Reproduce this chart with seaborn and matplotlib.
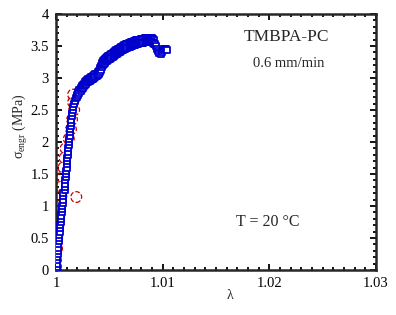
import matplotlib
matplotlib.use("Agg")
import matplotlib.pyplot as plt
import seaborn as sns
import pandas as pd
from matplotlib.ticker import MultipleLocator

# tramo inicial de la curva (cuadrados azules)
lam_rise = [1.0001, 1.0001, 1.0001, 1.0001, 1.0001, 1.0002, 1.0002, 1.0002, 1.0002, 1.0003,
            1.0003, 1.0003, 1.0004, 1.0004, 1.0004, 1.0005, 1.0005, 1.0005, 1.0006, 1.0006,
            1.0006, 1.0007, 1.0007, 1.0007, 1.0007, 1.0008, 1.0008, 1.0008, 1.0008, 1.0009,
            1.0009, 1.0009, 1.0010, 1.0010, 1.0010, 1.0010, 1.0011, 1.0011, 1.0011, 1.0012,
            1.0012, 1.0012, 1.0013, 1.0013, 1.0013, 1.0014, 1.0014, 1.0014, 1.0015, 1.0015,
            1.0016, 1.0016, 1.0017, 1.0018, 1.0019]
sig_rise = [0.00, 0.05, 0.10, 0.15, 0.20, 0.25, 0.30, 0.35, 0.40, 0.45,
            0.50, 0.55, 0.60, 0.65, 0.70, 0.75, 0.80, 0.85, 0.90, 0.95,
            1.00, 1.05, 1.10, 1.15, 1.20, 1.25, 1.30, 1.35, 1.40, 1.45,
            1.50, 1.55, 1.60, 1.65, 1.70, 1.75, 1.80, 1.85, 1.90, 1.95,
            2.00, 2.05, 2.10, 2.15, 2.20, 2.25, 2.30, 2.35, 2.40, 2.45,
            2.50, 2.55, 2.60, 2.64, 2.68]

# zona de fluencia: dos lecturas por cada lambda (banda con ruido)
lam_flow = [1.0020, 1.0021, 1.0022, 1.0023, 1.0024, 1.0025, 1.0026, 1.0027, 1.0028, 1.0029,
            1.0030, 1.0031, 1.0032, 1.0033, 1.0034, 1.0035, 1.0036, 1.0037, 1.0038, 1.0039,
            1.0040, 1.0041, 1.0042, 1.0043, 1.0044, 1.0045, 1.0046, 1.0047, 1.0048, 1.0049,
            1.0050, 1.0051, 1.0052, 1.0053, 1.0054, 1.0055, 1.0056, 1.0057, 1.0058, 1.0059,
            1.0060, 1.0061, 1.0062, 1.0063, 1.0064, 1.0065, 1.0066, 1.0067, 1.0068, 1.0069,
            1.0070, 1.0071, 1.0072, 1.0073, 1.0074, 1.0075, 1.0076, 1.0077, 1.0078, 1.0079,
            1.0080, 1.0081, 1.0082, 1.0083, 1.0084, 1.0085, 1.0086, 1.0087, 1.0088, 1.0089,
            1.0090, 1.0091, 1.0092]
sig_flow_hi = [2.74, 2.78, 2.81, 2.84, 2.87, 2.89, 2.91, 2.93, 2.95, 2.97,
               2.98, 2.99, 3.00, 3.01, 3.02, 3.03, 3.04, 3.06, 3.07, 3.09,
               3.11, 3.15, 3.19, 3.23, 3.26, 3.28, 3.30, 3.32, 3.33, 3.34,
               3.35, 3.36, 3.38, 3.39, 3.41, 3.42, 3.43, 3.44, 3.45, 3.46,
               3.47, 3.48, 3.49, 3.50, 3.51, 3.52, 3.53, 3.53, 3.54, 3.55,
               3.56, 3.56, 3.57, 3.58, 3.58, 3.59, 3.59, 3.59, 3.60, 3.60,
               3.61, 3.61, 3.61, 3.62, 3.62, 3.62, 3.62, 3.63, 3.63, 3.63,
               3.62, 3.61, 3.59]
sig_flow_lo = [2.70, 2.74, 2.77, 2.80, 2.83, 2.85, 2.87, 2.89, 2.91, 2.93,
               2.94, 2.95, 2.96, 2.97, 2.98, 2.99, 3.00, 3.02, 3.03, 3.05,
               3.07, 3.09, 3.13, 3.17, 3.20, 3.22, 3.24, 3.26, 3.27, 3.28,
               3.29, 3.30, 3.32, 3.33, 3.35, 3.36, 3.37, 3.38, 3.39, 3.40,
               3.41, 3.42, 3.43, 3.44, 3.45, 3.46, 3.47, 3.47, 3.48, 3.49,
               3.50, 3.50, 3.51, 3.52, 3.52, 3.53, 3.53, 3.53, 3.54, 3.54,
               3.55, 3.55, 3.55, 3.56, 3.56, 3.56, 3.56, 3.57, 3.57, 3.57,
               3.56, 3.55, 3.53]

# caida final
lam_end = [1.0093, 1.0094, 1.0095, 1.0096, 1.0097, 1.0098, 1.0099, 1.0100, 1.0101, 1.0102,
           1.0103, 1.0104]
sig_end = [3.53, 3.50, 3.46, 3.42, 3.39, 3.38, 3.40, 3.43, 3.45, 3.46,
           3.45, 3.44]

# ajuste inicial (circulos rojos)
lam_ci = [1.0000, 1.0000, 1.0001, 1.0001, 1.0002, 1.0003, 1.0004, 1.0005, 1.0005, 1.0006,
          1.0007, 1.0008, 1.0009, 1.0012, 1.0014, 1.0015, 1.0017, 1.0016, 1.0016, 1.0019]
sig_ci = [0.05, 0.15, 0.33, 0.52, 0.70, 0.85, 1.00, 1.15, 1.30, 1.45,
          1.60, 1.75, 1.90, 2.05, 2.20, 2.35, 2.50, 2.62, 2.74, 1.14]

df_sq = pd.DataFrame({
    "lam": lam_rise + lam_flow + lam_flow + lam_end,
    "sig": sig_rise + sig_flow_hi + sig_flow_lo + sig_end,
})
df_ci = pd.DataFrame({"lam": lam_ci, "sig": sig_ci})

sns.set_style("ticks")
plt.rcParams["font.family"] = ["Liberation Serif", "DejaVu Serif"]
plt.rcParams["mathtext.fontset"] = "custom"
plt.rcParams["mathtext.rm"] = "Liberation Serif"

fig = plt.figure(figsize=(3.96, 3.15), dpi=100)
ax = fig.add_axes([56/396, 1 - 270/315, 320/396, 256/315])

sns.scatterplot(data=df_ci, x="lam", y="sig", ax=ax, marker="o", s=60,
                facecolor="none", edgecolor="#cc0000", linewidth=0.9,
                linestyle="--", zorder=2)
sns.scatterplot(data=df_sq, x="lam", y="sig", ax=ax, marker="s", s=22,
                facecolor="white", edgecolor="#0000cc", linewidth=1.3, zorder=3)

ax.set_xlim(1.0, 1.03)
ax.set_ylim(0, 4)
ax.xaxis.set_major_locator(MultipleLocator(0.01))
ax.xaxis.set_minor_locator(MultipleLocator(0.001))
ax.yaxis.set_major_locator(MultipleLocator(0.5))
ax.yaxis.set_minor_locator(MultipleLocator(0.1))
ax.set_xticks([1.0, 1.01, 1.02, 1.03], ["1", "1.01", "1.02", "1.03"])
ax.set_yticks([0, 0.5, 1, 1.5, 2, 2.5, 3, 3.5, 4],
              ["0", "0.5", "1", "1.5", "2", "2.5", "3", "3.5", "4"])

for sp in ax.spines.values():
    sp.set_linewidth(1.8)
    sp.set_visible(True)
ax.tick_params(which="both", direction="in", top=True, right=True, width=1.3,
               labelsize=10.5, colors="black")
ax.tick_params(which="major", length=4.5, pad=5)
ax.tick_params(which="minor", length=2.5)

ax.set_xlabel("λ", fontsize=10)
ax.xaxis.set_label_coords((230 - 56) / 320, -0.075)
ax.set_ylabel(r"σ$_{\mathregular{engr}}$ (MPa)", fontsize=10)
ax.yaxis.set_label_coords(-0.082, 0.56)

fig.text(286/396, 1 - 37/315, "TMBPA-PC", fontsize=12.5, ha="center", va="center")
fig.text(289/396, 1 - 64/315, "0.6 mm/min", fontsize=10.5, ha="center", va="center")
fig.text(268/396, 1 - 222/315, "T = 20 °C", fontsize=11.5, ha="center", va="center")

fig.savefig("out.png", dpi=100)
